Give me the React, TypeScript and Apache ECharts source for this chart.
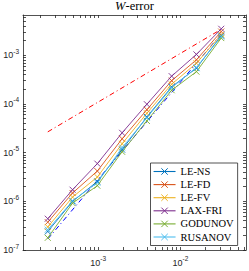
import React, { useEffect, useRef } from "react";
import * as echarts from "echarts";

// mesh sizes h
const hValues = [1 / 4096, 1 / 2048, 1 / 1024, 1 / 512, 1 / 256, 1 / 128, 1 / 64, 1 / 32];

const seriesNames = ["LE-NS", "LE-FD", "LE-FV", "LAX-FRI", "GODUNOV", "RUSANOV"];
const seriesColors = ["#0072BD", "#D95319", "#EDB120", "#7E2F8E", "#77AC30", "#4DBEEE"];

const leNS = [2.4e-7, 9.95e-7, 2.56e-6, 1.15e-5, 5.41e-5, 2.24e-4, 5.43e-4, 2.53e-3];
const leFD = [3.73e-7, 1.48e-6, 4.18e-6, 1.92e-5, 7.6e-5, 3.0e-4, 8.04e-4, 3.06e-3];
const leFV = [2.97e-7, 1.22e-6, 3.15e-6, 1.52e-5, 6.44e-5, 2.54e-4, 6.87e-4, 2.65e-3];
const laxFri = [4.39e-7, 1.73e-6, 5.94e-6, 2.55e-5, 9.86e-5, 3.72e-4, 1.04e-3, 3.49e-3];
const godunov = [1.78e-7, 9.18e-7, 2.09e-6, 1.04e-5, 4.47e-5, 1.91e-4, 4.6e-4, 2.25e-3];
const rusanov = [2.61e-7, 1.02e-6, 2.41e-6, 1.27e-5, 5.2e-5, 2.15e-4, 5.61e-4, 2.42e-3];
const seriesValues = [leNS, leFD, leFV, laxFri, godunov, rusanov];

// reference slopes (endpoints)
const refH = [1 / 4096, 1 / 32];
const refOrder1 = [2.67e-5, 3.41e-3];
const refOrder2 = [1.68e-7, 2.75e-3];

// axes
const xLimits = [1 / 8192, 1 / 16];
const yLimits = [1e-7, 6.7e-3];
const xTickExps = [-3, -2];
const yTickExps = [-7, -6, -5, -4, -3];

const lg = Math.log10;

function logTicks(lo: number, hi: number): number[] {
  const out: number[] = [];
  const a = Math.floor(lg(lo));
  const b = Math.ceil(lg(hi));
  for (let n = a; n <= b; n++) {
    for (let k = 1; k <= 9; k++) {
      const v = lg(k) + n;
      if (v >= lg(lo) - 1e-9 && v <= lg(hi) + 1e-9) out.push(v);
    }
  }
  return out;
}

const AXIS_COLOR = "#262626";
const SANS = "Liberation Sans";
const SERIF = "'Liberation Serif', 'DejaVu Serif', serif";

const richLabel = {
  b: { fontSize: 9, fontFamily: SANS, color: AXIS_COLOR },
  s: { fontSize: 6.5, fontFamily: SANS, color: AXIS_COLOR, padding: [0, 0, 8, 0] },
};
const fmt = (v: number) => `{b|10}{s|${Math.round(v)}}`;

export default function App() {
  const ref = useRef<HTMLDivElement>(null);
  useEffect(() => {
    if (!ref.current) return;
    const chart = echarts.init(ref.current, null, { renderer: "svg" });
    const xTicks = logTicks(xLimits[0], xLimits[1]);
    const yTicks = logTicks(yLimits[0], yLimits[1]);
    const axisLine = { show: true, onZero: false, lineStyle: { color: AXIS_COLOR, width: 0.8 } };
    const tick = (vals: number[]) => ({
      show: true,
      inside: true,
      length: 3,
      customValues: vals,
      lineStyle: { color: AXIS_COLOR, width: 0.8 },
    });
    const xBase = {
      type: "value",
      min: lg(xLimits[0]),
      max: lg(xLimits[1]),
      axisLine,
      axisTick: tick(xTicks),
      splitLine: { show: false },
    };
    const yBase = {
      type: "value",
      min: lg(yLimits[0]),
      max: lg(yLimits[1]),
      axisLine,
      axisTick: tick(yTicks),
      splitLine: { show: false },
    };
    const xSymbol = "path://M0,0L10,10M10,0L0,10";
    const dataSeries = seriesNames.map((name, i) => ({
      name,
      type: "line",
      data: hValues.map((h, j) => [lg(h), lg(seriesValues[i][j])]),
      symbol: xSymbol,
      symbolSize: 6,
      color: seriesColors[i],
      lineStyle: { width: 0.9, color: seriesColors[i] },
      itemStyle: { color: seriesColors[i], borderColor: seriesColors[i], borderWidth: 0.9 },
      emphasis: { disabled: true },
      z: 3,
    }));
    const refSeries = [
      { vals: refOrder1, color: "#FF0000" },
      { vals: refOrder2, color: "#0000FF" },
    ].map((r) => ({
      type: "line",
      data: refH.map((h, j) => [lg(h), lg(r.vals[j])]),
      symbol: "none",
      lineStyle: { width: 1, color: r.color, type: [5, 3, 1, 3] },
      emphasis: { disabled: true },
      z: 2,
    }));
    chart.setOption({
      animation: false,
      grid: { left: 23, right: 3, top: 15, bottom: 21 },
      xAxis: [
        {
          ...xBase,
          position: "bottom",
          axisLabel: { show: true, customValues: xTickExps, margin: 5, formatter: fmt, rich: richLabel },
        },
        { ...xBase, position: "top", axisLabel: { show: false } },
      ],
      yAxis: [
        {
          ...yBase,
          position: "left",
          axisLabel: { show: true, customValues: yTickExps, margin: 4, formatter: fmt, rich: richLabel },
        },
        { ...yBase, position: "right", axisLabel: { show: false } },
      ],
      legend: {
        data: seriesNames.map((name, i) => ({
          name,
          itemStyle: { color: seriesColors[i], borderColor: seriesColors[i], borderWidth: 1 },
          lineStyle: { color: seriesColors[i], width: 1.1 },
        })),
        orient: "vertical",
        left: 150.5,
        top: 163,
        padding: [3, 4, 3, 2.5],
        borderColor: AXIS_COLOR,
        borderWidth: 0.8,
        backgroundColor: "#fff",
        itemWidth: 22,
        itemHeight: 8,
        itemGap: 2.1,
        textStyle: {
          fontFamily: SERIF,
          fontSize: 10.5,
          fontWeight: "normal",
          color: "#000",
        },
      },
      graphic: [
        {
          type: "text",
          x: 134.5,
          y: 5.5,
          style: {
            text: "{i|W}-error",
            align: "center",
            verticalAlign: "middle",
            fontFamily: SERIF,
            fontSize: 12.5,
            fill: "#000",
            rich: {
              i: { fontFamily: SERIF, fontSize: 12.5, fontStyle: "italic", color: "#000" },
            },
          },
        },
      ],
      series: [...refSeries, ...dataSeries],
    });
    return () => chart.dispose();
  }, []);
  return (
    <div
      ref={ref}
      style={{ position: "fixed", left: 0, top: 0, width: 249, height: 271, background: "#fff" }}
    />
  );
}
